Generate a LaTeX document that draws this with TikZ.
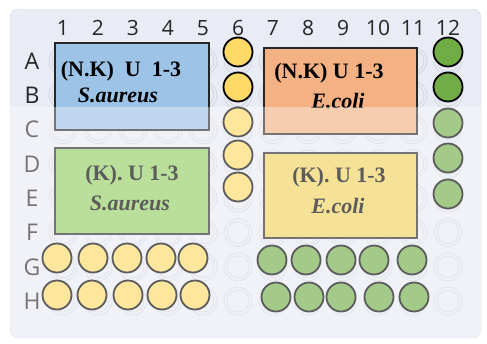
\documentclass[tikz,border=0pt]{standalone}
\usepackage{fontspec}
\setmainfont{Liberation Serif}
\newfontfamily\platefont{Open Sans}
\usetikzlibrary{positioning}
\definecolor{plate}{HTML}{E9ECF5}
\definecolor{plateedge}{HTML}{D9DCE6}
\definecolor{wellring}{HTML}{D3D5DF}
\definecolor{nkblue}{HTML}{9DC3E6}
\definecolor{nkorange}{HTML}{F4B183}
\definecolor{kgreen}{HTML}{94CE62}
\definecolor{kyellow}{HTML}{F2D35C}
\definecolor{saur}{HTML}{FFD966}
\definecolor{ecol}{HTML}{70AD47}
\definecolor{ink}{HTML}{262626}

\begin{document}
\begin{tikzpicture}[x=1pt,y=-1pt,
  well/.style={circle,draw=black,line width=1.8pt,minimum size=29pt,inner sep=0pt},
  groupbox/.style={draw=ink,line width=2.4pt,inner sep=0pt,anchor=north west},
  grouptext/.style={font=\fontsize{22}{24}\selectfont\bfseries},
  groupname/.style={font=\fontsize{22}{24}\selectfont\bfseries\itshape},
  axislabel/.style={font=\platefont\fontsize{21}{23}\selectfont,text=ink}]
  \useasboundingbox (0,0) rectangle (487,343);
  % plate and empty wells
  \draw[plateedge,fill=plate,rounded corners=8pt] (10,9) rectangle (481,338);
  \foreach \c in {1,...,12}{
    \foreach \r in {0,...,7}{
      \draw[wellring,line width=0.8pt] ({63+35*(\c-1)},{61+34.3*\r}) circle (14)
                                       ({63+35*(\c-1)},{61+34.3*\r}) circle (11);
    }
  }
  \foreach \c in {1,...,12}
    \node[axislabel] (col\c) at ({63+35*(\c-1)},28) {\c};
  \foreach \r [count=\i from 0] in {A,B,C,D,E,F,G,H}
    \node[axislabel,font=\platefont\fontsize{23}{25}\selectfont] (row\r) at (32,{61+34.3*\i}) {\r};
  % treatment groups
  \node[groupbox,fill=nkblue,minimum width=154pt,minimum height=87pt] (nkSa) at (54,42) {};
  \node[groupbox,fill=nkorange,minimum width=153pt,minimum height=86pt] (nkEc) at (263,47) {};
  \node[groupbox,fill=kgreen,minimum width=154pt,minimum height=86pt] (kSa) at (54,147) {};
  \node[groupbox,fill=kyellow,minimum width=153pt,minimum height=85pt] (kEc) at (263,152) {};
  % controls
  \foreach \x/\y [count=\n] in {238/52,238/87,238/122,238/155,238/187,
      57/258,93/258,127/258,161/258,193/258,57/295,92/295,128/295,162/295,195/295}
    \node[well,fill=saur] (sa\n) at (\x,\y) {};
  \foreach \x/\y [count=\n] in {448/52,448/87,448/123,448/158,448/194,
      272/260,306/260,341/260,374/260,412/260,276/297,309/297,341/297,379/297,414/297}
    \node[well,fill=ecol] (ec\n) at (\x,\y) {};
  \node[grouptext] (nkSaDose) at (121,71) {(N.K)\ \ U\ \ 1-3};
  \node[groupname] (nkSaName) at (118,95) {S.aureus};
  \node[grouptext] (nkEcDose) at (329,73) {(N.K) U 1-3};
  \node[groupname] (nkEcName) at (338,101) {E.coli};
  \node[grouptext] (kSaDose) at (132,175) {(K). U 1-3};
  \node[groupname] (kSaName) at (130,203) {S.aureus};
  \node[grouptext] (kEcDose) at (339,177) {(K). U 1-3};
  \node[groupname] (kEcName) at (338,206) {E.coli};
  % washed-out lower part
  \fill[white,opacity=0.36] (0,107) rectangle (487,343);
\end{tikzpicture}
\end{document}
